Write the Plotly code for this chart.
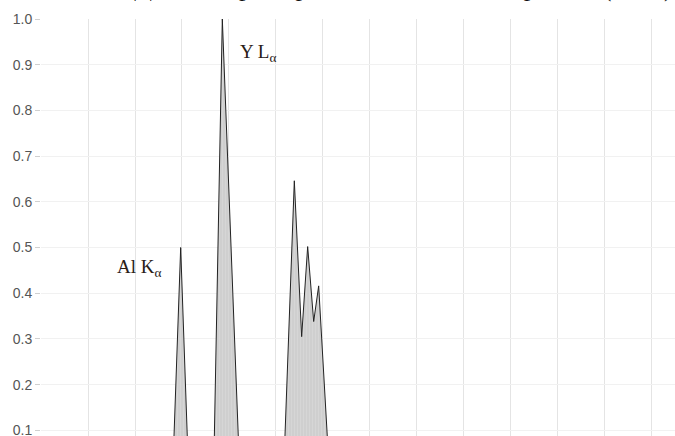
import plotly.graph_objects as go

# Normalised X-ray emission spectrum (energy in keV, intensity relative to Y L-alpha)
energy_kev = [0.00, 1.30, 1.400, 1.486, 1.571, 1.70, 1.836, 1.929, 2.115, 2.30,
              2.580, 2.695, 2.773, 2.837, 2.901, 2.954, 3.070, 3.30, 7.00]
intensity = [0.00, 0.00, 0.000, 0.500, 0.000, 0.00, 0.000, 1.000, 0.000, 0.00,
             0.000, 0.646, 0.305, 0.502, 0.338, 0.416, 0.000, 0.00, 0.00]

# Emission line labels placed beside their peaks
line_labels = ["Al K<sub>α</sub>", "Y L<sub>α</sub>"]
label_energy = [0.79, 2.095]
label_level = [0.455, 0.925]

y_ticks = [0.0, 0.1, 0.2, 0.3, 0.4, 0.5, 0.6, 0.7, 0.8, 0.9, 1.0]
y_tick_text = ["0.0", "0.1", "0.2", "0.3", "0.4", "0.5", "0.6", "0.7", "0.8", "0.9", "1.0"]

fig = go.Figure()
fig.add_trace(go.Scatter(
    x=energy_kev, y=intensity, mode="lines",
    line=dict(color="#222222", width=1),
    fill="tozeroy",
    fillpattern=dict(shape="|", bgcolor="#cfcfcf", fgcolor="#dedede",
                     size=3, solidity=0.35),
    hoverinfo="skip", showlegend=False,
))

for txt, ex, lv in zip(line_labels, label_energy, label_level):
    fig.add_annotation(x=ex, y=lv, text=txt, showarrow=False,
                       xanchor="left", yanchor="middle",
                       font=dict(family="Liberation Serif", size=19, color="#2a2017"))

fig.update_layout(
    width=675, height=516,
    margin=dict(l=41, r=0, t=19, b=40, autoexpand=False),
    paper_bgcolor="white", plot_bgcolor="white",
    title=dict(text="ЭДС-спектр иттрий-алюминиевого граната (ИАГ)",
               font=dict(family="Liberation Serif", size=26, color="#111111"),
               x=0.56, xanchor="center", xref="paper",
               yref="paper", y=1.0, yanchor="bottom", pad=dict(b=23)),
    xaxis=dict(range=[0, 6.745], dtick=0.5, tick0=0, showgrid=True,
               gridcolor="#e4e4e4", gridwidth=1, zeroline=False,
               showline=False, showticklabels=False, ticks="",
               automargin=False),
    yaxis=dict(range=[0.0, 1.0], tickvals=y_ticks, ticktext=y_tick_text,
               showgrid=True, gridcolor="#f1f1f1", gridwidth=1, zeroline=False,
               showline=False, ticks="outside", ticklen=5, tickcolor="#d0d0d0",
               tickfont=dict(family="Liberation Sans", size=14, color="#555555"),
               automargin=False),
)

fig.write_html("out.html")
